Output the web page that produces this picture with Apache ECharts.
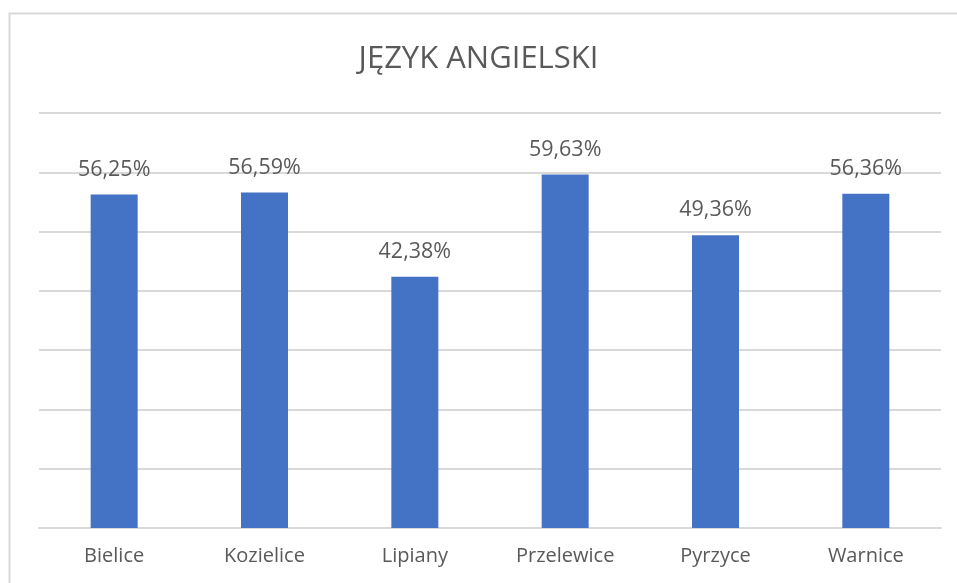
<!DOCTYPE html>
<html>
<head>
<meta charset="utf-8">
<script src="https://cdn.jsdelivr.net/npm/echarts@6/dist/echarts.min.js"></script>
<style>
  html, body { margin: 0; padding: 0; background: #fff; }
  #chart { width: 957px; height: 583px; }
</style>
</head>
<body>
<div id="chart"></div>
<script>
// dane z wykresu
var gminy = ['Bielice', 'Kozielice', 'Lipiany', 'Przelewice', 'Pyrzyce', 'Warnice'];
var wyniki = [56.25, 56.59, 42.38, 59.63, 49.36, 56.36];

var chart = echarts.init(document.getElementById('chart'));
var option = {
  animation: false,
  textStyle: { fontFamily: 'Open Sans, Noto Sans, sans-serif' },
  title: {
    text: 'JĘZYK ANGIELSKI',
    left: 'center',
    top: 39,
    textStyle: { fontSize: 31, fontWeight: 'normal', color: '#595959', fontFamily: 'Open Sans, Noto Sans, sans-serif' }
  },
  graphic: [{
    type: 'rect',
    shape: { x: 9.5, y: 13.5, width: 1000, height: 1000 },
    style: { fill: 'none', stroke: '#d9d9d9', lineWidth: 2 },
    silent: true
  }],
  grid: { left: 39, right: 16, top: 113, bottom: 55 },
  xAxis: {
    type: 'category',
    data: gminy,
    axisLine: { lineStyle: { color: '#d9d9d9', width: 2 } },
    axisTick: { show: false },
    axisLabel: { color: '#595959', fontSize: 20, margin: 18 }
  },
  yAxis: {
    type: 'value',
    min: 0,
    max: 70,
    interval: 10,
    axisLabel: { show: false },
    axisLine: { show: false },
    axisTick: { show: false },
    splitLine: { lineStyle: { color: '#d9d9d9', width: 2 } }
  },
  series: [{
    type: 'bar',
    data: wyniki,
    barWidth: 47,
    itemStyle: { color: '#4472c4' },
    label: {
      show: true,
      position: 'top',
      distance: 14,
      color: '#595959',
      fontSize: 21.5,
      formatter: function(p) {
        return p.value.toFixed(2).replace('.', ',') + '%';
      }
    }
  }]
};
chart.setOption(option);
window.onresize = chart.resize;
</script>
</body>
</html>
